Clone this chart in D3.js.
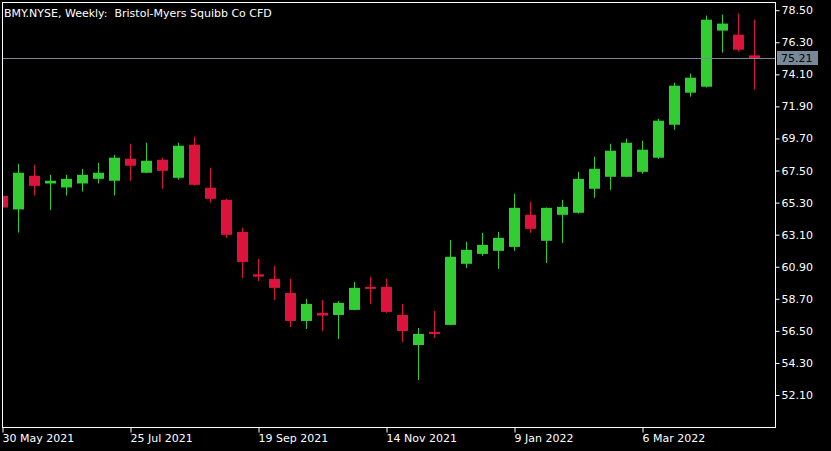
<!DOCTYPE html>
<html>
<head>
<meta charset="utf-8">
<script src="https://cdn.jsdelivr.net/npm/d3@7"></script>
<style>
html,body{margin:0;padding:0;background:#000;}
svg{display:block;}
text{font-family:"DejaVu Sans",sans-serif;font-size:11px;fill:#fff;}
</style>
</head>
<body>
<svg id="chart" width="831" height="451"></svg>
<script>
const startDate = "2021-05-30";
const opens  = [65.77,64.83,67.14,66.61,66.34,66.61,66.93,66.80,68.31,67.35,68.24,67.00,69.27,66.32,65.49,63.29,60.38,60.07,59.10,57.18,57.73,57.59,57.94,59.52,59.52,57.59,55.53,56.43,56.91,61.10,61.78,61.99,62.26,64.46,62.68,64.46,64.60,66.25,67.07,67.07,67.41,68.38,70.64,72.84,73.25,77.10,76.82,75.40];
const highs  = [66.00,67.96,67.90,67.21,67.21,67.62,68.03,68.58,69.34,69.41,68.38,69.41,69.82,67.69,65.56,63.57,61.44,60.96,60.07,58.69,58.62,58.55,59.86,60.20,60.07,58.35,56.70,57.87,62.74,62.61,63.23,63.29,65.90,65.35,64.96,65.49,67.41,68.45,69.34,69.68,69.54,71.05,73.53,74.15,78.13,78.20,78.27,77.85];
const lows   = [64.80,63.25,65.79,64.80,65.79,66.06,66.61,65.79,66.80,67.33,66.25,66.87,66.48,65.29,62.88,60.13,59.93,58.62,56.77,56.63,56.49,55.95,57.92,58.35,57.73,55.74,53.13,56.01,56.89,60.82,61.65,60.75,61.99,63.23,61.16,62.54,64.55,65.63,66.18,67.05,67.28,68.30,70.30,72.57,73.20,75.59,75.66,73.05];
const closes = [64.96,67.35,66.45,66.80,66.93,67.21,67.35,68.38,67.83,68.17,67.48,69.20,66.52,65.56,63.09,61.23,60.22,59.45,57.18,58.35,57.55,58.42,59.45,59.38,57.80,56.49,56.29,56.29,61.58,62.06,62.40,62.88,64.94,63.50,64.94,65.01,66.93,67.62,68.86,69.41,68.93,70.92,73.32,73.87,77.85,77.58,75.79,75.21];
const priceTicks = [78.50,76.30,74.10,71.90,69.70,67.50,65.30,63.10,60.90,58.70,56.50,54.30,52.10];
const dateTickIndex = [0,8,16,24,32,40];
const dateTickLabels = ["30 May 2021","25 Jul 2021","19 Sep 2021","14 Nov 2021","9 Jan 2022","6 Mar 2022"];
const currentPrice = 75.21;
const title = "BMY.NYSE, Weekly:  Bristol-Myers Squibb Co CFD";

const svg = d3.select("#chart");
const L = 2, R = 775, T = 2, B = 427;
const UP = "#32cd32", DOWN = "#dc143c", GRID = "#778899";

const x = d3.scaleLinear().domain([0, opens.length - 1]).range([2, 754]);
const y = d3.scaleLinear().domain([52.10, 78.50]).range([395, 10.2]);

const data = opens.map((o, i) => ({i, o, h: highs[i], l: lows[i], c: closes[i]}));

const plot = svg.append("g");
plot.append("defs").append("clipPath").attr("id","clip")
  .append("rect").attr("x", L).attr("y", T).attr("width", R - L).attr("height", B - T);

const candles = plot.append("g").attr("clip-path","url(#clip)");
const g = candles.selectAll("g.c").data(data).join("g").attr("class","c");
g.append("rect")
  .attr("x", d => Math.round(x(d.i)))
  .attr("width", 1)
  .attr("y", d => y(d.h))
  .attr("height", d => y(d.l) - y(d.h))
  .attr("fill", d => d.c >= d.o ? UP : DOWN);
g.append("rect")
  .attr("x", d => Math.round(x(d.i)) - 5)
  .attr("width", 11)
  .attr("y", d => y(Math.max(d.o, d.c)))
  .attr("height", d => Math.max(2, Math.abs(y(d.o) - y(d.c))))
  .attr("fill", d => d.c >= d.o ? UP : DOWN);

// current price line
const cy = Math.floor(y(currentPrice)) + 0.5;
plot.append("line")
  .attr("x1", L).attr("x2", R)
  .attr("y1", cy).attr("y2", cy)
  .attr("stroke", GRID).attr("stroke-width", 1);

// frame
svg.append("rect").attr("x", L + 0.5).attr("y", T + 0.5)
  .attr("width", R - L).attr("height", B - T)
  .attr("fill","none").attr("stroke","#fff").attr("stroke-width",1);

// right axis
const yAxis = d3.axisRight(y).tickValues(priceTicks).tickFormat(d3.format(".2f")).tickSize(4).tickPadding(2);
const ya = svg.append("g").attr("transform", `translate(${R + 0.5},0)`).call(yAxis);
ya.select(".domain").remove();
ya.selectAll(".tick line").attr("stroke","#fff");
ya.selectAll(".tick text").attr("fill","#fff").style("font-family","DejaVu Sans").style("font-size","11px");

// current price label
svg.append("rect").attr("x", 777).attr("y", cy - 7.5).attr("width", 41).attr("height", 14).attr("fill", GRID);
svg.append("text").attr("x", 781).attr("y", cy).attr("dy","0.35em").style("fill","#000").text(currentPrice.toFixed(2));

// bottom axis
const xAxis = d3.axisBottom(x).tickValues(dateTickIndex)
  .tickFormat((d, k) => dateTickLabels[k]).tickSize(5).tickPadding(2);
const xa = svg.append("g").attr("transform", `translate(0.5,${B + 0.5})`).call(xAxis);
xa.select(".domain").remove();
xa.selectAll(".tick line").attr("stroke","#fff");
xa.selectAll(".tick text").attr("fill","#fff").attr("text-anchor","start").attr("x", -0.5)
  .style("font-family","DejaVu Sans").style("font-size","11px");

// title
svg.append("text").attr("x", 4).attr("y", 16.5).style("white-space","pre").text(title);
</script>
</body>
</html>
